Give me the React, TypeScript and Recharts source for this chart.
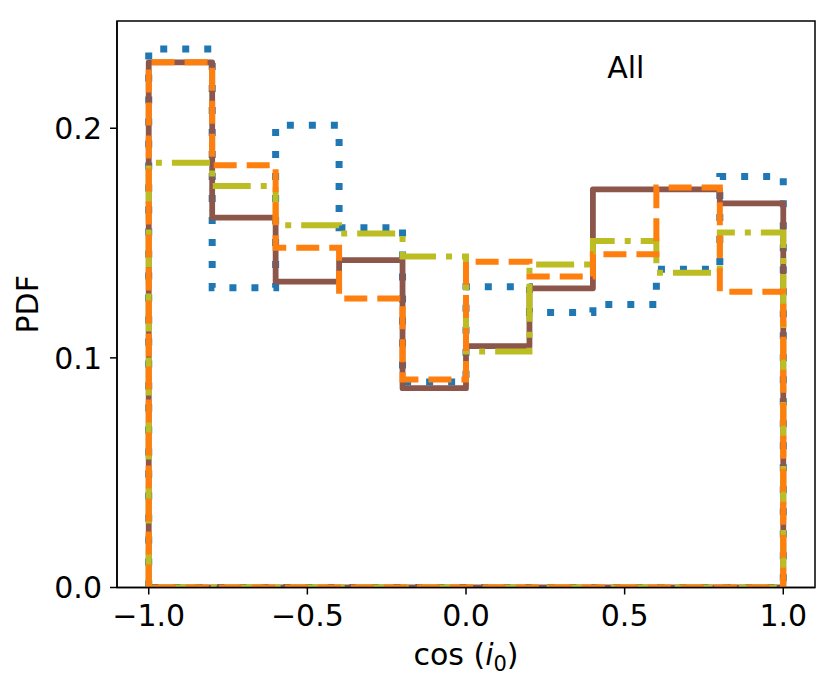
import React from 'react';
import { LineChart, Line, XAxis, YAxis, ReferenceArea, Label } from 'recharts';

// bin edges shared by every histogram
const binEdges = [-1.0, -0.8, -0.6, -0.4, -0.2, 0.0, 0.2, 0.4, 0.6, 0.8, 1.0];

// PDF per bin, one array per sample
const bluePdf = [0.2345, 0.1305, 0.2013, 0.1567, 0.0895, 0.131, 0.1198, 0.1232, 0.1386, 0.179];
const brownPdf = [0.2287, 0.1611, 0.1332, 0.1426, 0.0868, 0.1051, 0.1303, 0.1734, 0.1734, 0.1673];
const olivePdf = [0.185, 0.1749, 0.1577, 0.1542, 0.1441, 0.1028, 0.1407, 0.1509, 0.1371, 0.1546];
const orangePdf = [0.2287, 0.1839, 0.148, 0.1258, 0.0906, 0.1419, 0.1354, 0.1451, 0.1742, 0.1288];

const xTicks = [-1.0, -0.5, 0.0, 0.5, 1.0];
const yTicks = [0.0, 0.1, 0.2];
const xDomain = [-1.1, 1.1];
const yMax = 0.2467;

const FONT = 'DejaVu Sans';
const FS = 30;

// closed step outline like matplotlib's histtype='step'
function outline(values: number[]) {
  const pts = [{ x: binEdges[0], y: 0 }];
  values.forEach((v, i) => {
    pts.push({ x: binEdges[i], y: v });
    pts.push({ x: binEdges[i + 1], y: v });
  });
  pts.push({ x: binEdges[binEdges.length - 1], y: 0 });
  pts.push({ x: binEdges[0], y: 0 });
  return pts;
}

const fmt = (v: number) => (v < 0 ? '\u2212' : '') + Math.abs(v).toFixed(1);

const series = [
  { name: 'blue', values: bluePdf, color: '#1f77b4', dash: '7 15', width: 7 },
  { name: 'brown', values: brownPdf, color: '#8c564b', dash: undefined, width: 5.8 },
  { name: 'olive', values: olivePdf, color: '#bcbd22', dash: '38 10 6 10', width: 6 },
  { name: 'orange', values: orangePdf, color: '#ff7f0e', dash: '23 10', width: 6 },
];

export default function App() {
  return (
    <div style={{ position: 'absolute', left: 0, top: 0, background: '#fff' }}>
      <LineChart width={838} height={688} margin={{ top: 21, right: 23, bottom: 0, left: 0 }}>
        <XAxis
          dataKey="x"
          type="number"
          domain={xDomain}
          ticks={xTicks}
          tickFormatter={fmt}
          allowDataOverflow
          height={100.5}
          tickSize={7}
          tickMargin={10}
          axisLine={{ stroke: '#000', strokeWidth: 1.5 }}
          tickLine={{ stroke: '#000', strokeWidth: 1.5 }}
          tick={{ fill: '#000', fontSize: FS, fontFamily: FONT }}
        >
          <Label
            content={(props: any) => {
              const vb = props.viewBox || { x: 117, y: 587.5, width: 698 };
              return (
                <text
                  x={vb.x + vb.width / 2}
                  y={vb.y + 77}
                  textAnchor="middle"
                  fontSize={FS}
                  fontFamily={FONT}
                  fill="#000"
                >
                  cos (<tspan fontStyle="italic">i</tspan>
                  <tspan fontSize={21} dy={6}>0</tspan>
                  <tspan dy={-6}>)</tspan>
                </text>
              );
            }}
          />
        </XAxis>
        <YAxis
          type="number"
          domain={[0, yMax]}
          ticks={yTicks}
          tickFormatter={(v: number) => v.toFixed(1)}
          allowDataOverflow
          width={117}
          tickSize={7}
          tickMargin={8}
          axisLine={{ stroke: '#000', strokeWidth: 1.5 }}
          tickLine={{ stroke: '#000', strokeWidth: 1.5 }}
          tick={{ fill: '#000', fontSize: FS, fontFamily: FONT }}
        >
          <Label
            content={(props: any) => {
              const vb = props.viewBox || { x: 0, y: 21, height: 566.5 };
              const cy = vb.y + vb.height / 2;
              return (
                <text
                  x={27}
                  y={cy}
                  transform={`rotate(-90 27 ${cy})`}
                  textAnchor="middle"
                  dominantBaseline="central"
                  fontSize={FS}
                  fontFamily={FONT}
                  fill="#000"
                >
                  PDF
                </text>
              );
            }}
          />
        </YAxis>
        {series.map((s) => (
          <Line
            key={s.name}
            data={outline(s.values)}
            dataKey="y"
            type="linear"
            stroke={s.color}
            strokeWidth={s.width}
            strokeDasharray={s.dash}
            strokeLinejoin={s.dash ? 'miter' : 'round'}
            strokeLinecap="butt"
            dot={false}
            activeDot={false}
            isAnimationActive={false}
          />
        ))}
        <ReferenceArea
          x1={xDomain[0]}
          x2={xDomain[1]}
          y1={0}
          y2={yMax}
          fill="none"
          stroke="#000"
          strokeWidth={1.5}
          ifOverflow="visible"
        >
          <Label
            content={(props: any) => {
              const vb = props.viewBox || { x: 117, y: 21, width: 698 };
              return (
                <text
                  x={vb.x + vb.width * 0.729}
                  y={vb.y + 57}
                  textAnchor="middle"
                  fontSize={FS}
                  fontFamily={FONT}
                  fill="#000"
                >
                  All
                </text>
              );
            }}
          />
        </ReferenceArea>
      </LineChart>
    </div>
  );
}
